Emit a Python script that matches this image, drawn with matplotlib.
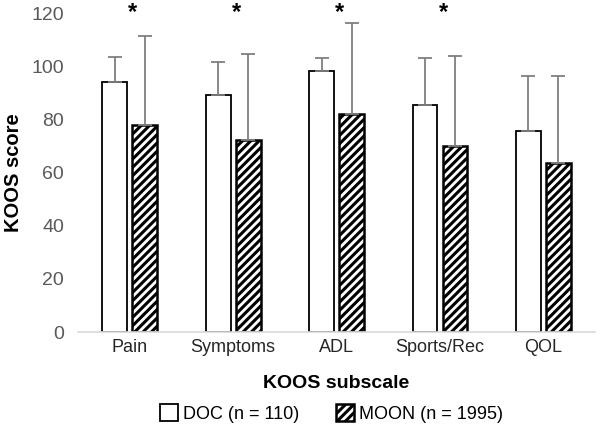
import numpy as np
import matplotlib.pyplot as plt

subscales = ["Pain", "Symptoms", "ADL", "Sports/Rec", "QOL"]
doc_mean = [94.3, 89.4, 98.5, 85.6, 76.0]
doc_sd = [9.4, 12.3, 4.8, 17.7, 20.4]
moon_mean = [78.2, 72.6, 82.4, 70.3, 63.9]
moon_sd = [33.4, 32.1, 34.2, 34.0, 32.5]
significant = [True, True, True, True, False]

plt.rcParams['font.family'] = ['Liberation Sans', 'DejaVu Sans']

fig = plt.figure(figsize=(6, 4.34), dpi=100)
ax = fig.add_axes([0.13, 0.235, 0.862, 0.733])

x = np.arange(len(subscales))
w = 0.24
off = 0.145
err_kw = dict(ecolor='#7f7f7f', elinewidth=1.3, capsize=5, capthick=1.3)

ax.bar(x - off, doc_mean, w, yerr=[np.zeros(5), doc_sd], color='white',
       edgecolor='black', linewidth=1.3, error_kw=err_kw, label='DOC (n = 110)')
plt.rcParams['hatch.linewidth'] = 2.2
ax.bar(x + off, moon_mean, w, yerr=[np.zeros(5), moon_sd], color='white',
       edgecolor='black', linewidth=1.8, hatch='////', error_kw=err_kw,
       label='MOON (n = 1995)')

# significance markers
for i, s in enumerate(significant):
    if s:
        ax.text(x[i] + 0.03, 120.5, '*', ha='center', va='center', fontsize=17,
                fontweight='bold')

ax.set_xlim(-0.5, 4.5)
ax.set_ylim(0, 120)
ax.set_yticks(range(0, 121, 20))
ax.set_xticks(x)
ax.set_xticklabels(subscales, fontsize=13, color='#262626')
ax.tick_params(axis='y', labelsize=14, labelcolor='#595959', length=0, pad=10)
ax.tick_params(axis='x', length=0, pad=5)
for side in ['top', 'right', 'left']:
    ax.spines[side].set_visible(False)
ax.spines['bottom'].set_color('#d9d9d9')
ax.spines['bottom'].set_linewidth(1.2)

ax.set_ylabel('KOOS score', fontsize=14.5, fontweight='bold', labelpad=6)
ax.set_xlabel('KOOS subscale', fontsize=14, fontweight='bold', labelpad=14)

ax.legend(loc='upper center', bbox_to_anchor=(0.49, -0.205), ncol=2,
          frameon=False, fontsize=13, handlelength=1.0, handleheight=1.0,
          columnspacing=2.0, handletextpad=0.3, borderaxespad=0)

fig.savefig('out.png', dpi=100)
